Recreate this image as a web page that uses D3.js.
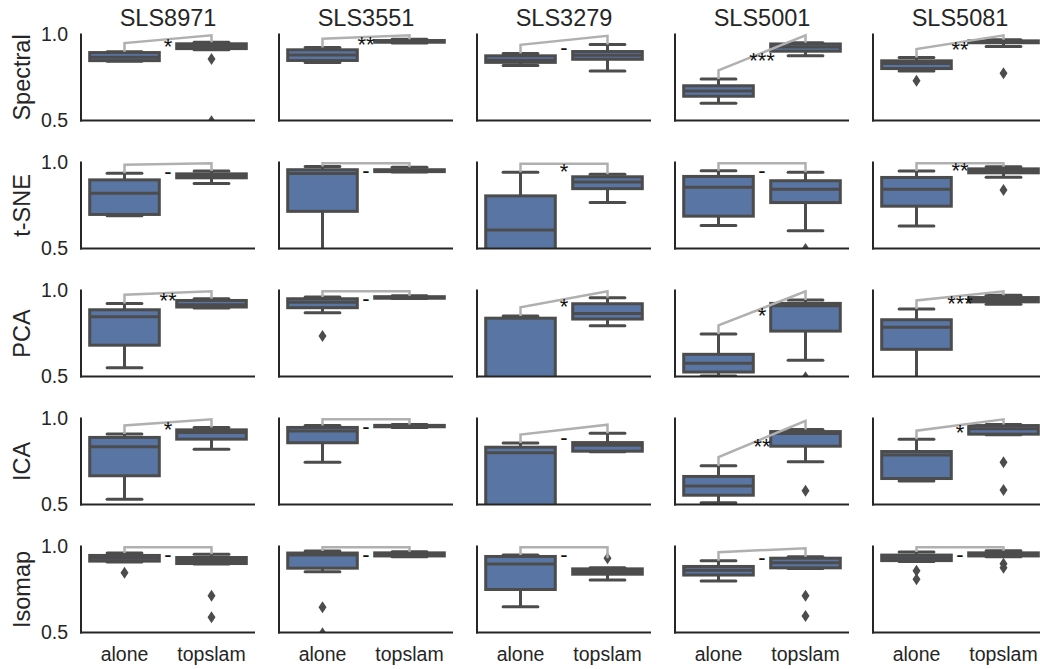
<!DOCTYPE html>
<html>
<head>
<meta charset="utf-8">
<script src="https://cdn.jsdelivr.net/npm/d3@7"></script>
<style>
  body { margin: 0; background: #fff; }
  text { font-family: "Liberation Sans", Arial, sans-serif; fill: #262626; }
</style>
</head>
<body>
<script>
const datasets = ["SLS8971", "SLS3551", "SLS3279", "SLS5001", "SLS5081"];
const methods = ["Spectral", "t-SNE", "PCA", "ICA", "Isomap"];
const groups = ["alone", "topslam"];
const yTicks = [0.5, 1.0];

// box stats per dataset: [whisker low, q1, median, q3, whisker high]
const spectralAlone = [
  [0.845, 0.848, 0.868, 0.895, 0.900],
  [0.837, 0.849, 0.881, 0.911, 0.925],
  [0.820, 0.838, 0.850, 0.876, 0.890],
  [0.600, 0.641, 0.672, 0.702, 0.742],
  [0.788, 0.802, 0.832, 0.847, 0.866]
];
const spectralTopslam = [
  [0.912, 0.918, 0.932, 0.946, 0.955],
  [0.950, 0.955, 0.960, 0.965, 0.972],
  [0.788, 0.856, 0.880, 0.901, 0.942],
  [0.876, 0.903, 0.928, 0.945, 0.952],
  [0.930, 0.952, 0.958, 0.963, 0.970]
];
const spectralAloneOut = [[], [], [], [], [0.731]];
const spectralTopslamOut = [[0.857, 0.496], [], [], [], [0.774]];
const spectralSig = ["*", "**", "-", "***", "**"];

const tsneAlone = [
  [0.690, 0.698, 0.821, 0.899, 0.937],
  [0.450, 0.716, 0.936, 0.958, 0.977],
  [0.300, 0.450, 0.608, 0.806, 0.943],
  [0.633, 0.688, 0.856, 0.919, 0.952],
  [0.631, 0.746, 0.844, 0.913, 0.951]
];
const tsneTopslam = [
  [0.878, 0.911, 0.922, 0.934, 0.950],
  [0.945, 0.947, 0.952, 0.958, 0.972],
  [0.767, 0.848, 0.886, 0.917, 0.932],
  [0.603, 0.767, 0.844, 0.894, 0.943],
  [0.914, 0.940, 0.952, 0.963, 0.975]
];
const tsneAloneOut = [[], [], [], [], []];
const tsneTopslamOut = [[], [], [], [0.497], [0.840]];
const tsneSig = ["-", "-", "*", "-", "**"];

const pcaAlone = [
  [0.551, 0.682, 0.848, 0.888, 0.925],
  [0.871, 0.900, 0.932, 0.952, 0.962],
  [0.200, 0.300, 0.450, 0.839, 0.852],
  [0.503, 0.526, 0.577, 0.629, 0.747],
  [0.480, 0.658, 0.786, 0.830, 0.892]
];
const pcaTopslam = [
  [0.898, 0.904, 0.917, 0.942, 0.952],
  [0.953, 0.955, 0.960, 0.964, 0.970],
  [0.795, 0.834, 0.867, 0.923, 0.958],
  [0.594, 0.764, 0.912, 0.925, 0.945],
  [0.920, 0.934, 0.947, 0.959, 0.972]
];
const pcaAloneOut = [[], [0.735], [], [], []];
const pcaTopslamOut = [[], [], [], [0.495], []];
const pcaSig = ["**", "-", "*", "*", "***"];

const icaAlone = [
  [0.530, 0.667, 0.836, 0.890, 0.910],
  [0.745, 0.859, 0.927, 0.948, 0.960],
  [0.300, 0.450, 0.801, 0.833, 0.857],
  [0.510, 0.554, 0.608, 0.663, 0.726],
  [0.637, 0.651, 0.788, 0.808, 0.879]
];
const icaTopslam = [
  [0.821, 0.880, 0.918, 0.934, 0.948],
  [0.948, 0.952, 0.956, 0.960, 0.965],
  [0.806, 0.810, 0.845, 0.860, 0.914],
  [0.749, 0.839, 0.913, 0.924, 0.936],
  [0.905, 0.909, 0.940, 0.959, 0.965]
];
const icaAloneOut = [[], [], [], [], []];
const icaTopslamOut = [[], [], [], [0.580], [0.745, 0.584]];
const icaSig = ["*", "-", "-", "**", "*"];

const isomapAlone = [
  [0.910, 0.915, 0.932, 0.948, 0.962],
  [0.853, 0.874, 0.950, 0.962, 0.974],
  [0.650, 0.750, 0.898, 0.942, 0.950],
  [0.800, 0.834, 0.862, 0.884, 0.917],
  [0.913, 0.918, 0.935, 0.950, 0.968]
];
const isomapTopslam = [
  [0.898, 0.901, 0.918, 0.936, 0.955],
  [0.940, 0.945, 0.955, 0.963, 0.970],
  [0.805, 0.839, 0.855, 0.870, 0.877],
  [0.872, 0.876, 0.905, 0.932, 0.940],
  [0.940, 0.945, 0.955, 0.963, 0.975]
];
const isomapAloneOut = [[0.848], [0.647, 0.495], [], [], [0.859, 0.810]];
const isomapTopslamOut = [[0.714, 0.588], [], [0.931], [0.714, 0.596], [0.900, 0.876]];
const isomapSig = ["-", "-", "-", "-", "-"];

// per method (row): [alone stats, topslam stats], outliers and significance labels
const stats = [
  [spectralAlone, spectralTopslam],
  [tsneAlone, tsneTopslam],
  [pcaAlone, pcaTopslam],
  [icaAlone, icaTopslam],
  [isomapAlone, isomapTopslam]
];
const outliers = [
  [spectralAloneOut, spectralTopslamOut],
  [tsneAloneOut, tsneTopslamOut],
  [pcaAloneOut, pcaTopslamOut],
  [icaAloneOut, icaTopslamOut],
  [isomapAloneOut, isomapTopslamOut]
];
const sigs = [spectralSig, tsneSig, pcaSig, icaSig, isomapSig];

const W = 1040, H = 669;
const boxColor = "#5875a4";
const gray = "#4c4c4c";
const annColor = "#b0b0b0";

const svg = d3.select("body").append("svg")
    .attr("width", W)
    .attr("height", H);

// panel grid
const colScale = d3.scaleBand().domain(datasets).range([81, 1047]).paddingInner(24 / 198);
const rowScale = d3.scaleBand().domain(methods).range([34.5, 632.5]).paddingInner(42 / 128);
const pw = colScale.bandwidth();
const ph = rowScale.bandwidth();

const x = d3.scaleBand().domain(groups).range([0, pw]);
const y = d3.scaleLinear().domain([0.5, 1.0]).range([ph, 0]);
const boxW = x.bandwidth() * 0.8;
const capW = boxW / 2;

const diamond = "M0,-6L4,0L0,6L-4,0Z";

methods.forEach((m, r) => {
  datasets.forEach((d, c) => {
    const g = svg.append("g")
        .attr("transform", "translate(" + colScale(d) + "," + rowScale(m) + ")");

    const clipId = "clip-" + r + "-" + c;
    g.append("clipPath").attr("id", clipId)
      .append("rect")
        .attr("x", -10).attr("y", -20)
        .attr("width", pw + 20).attr("height", ph + 20);

    const body = g.append("g").attr("clip-path", "url(#" + clipId + ")");

    let tops = [];
    groups.forEach((grp, k) => {
      const s = stats[r][k][c];
      const outs = outliers[r][k][c];
      const cx = x(grp) + x.bandwidth() / 2;

      // whiskers
      body.append("line")
          .attr("x1", cx).attr("x2", cx)
          .attr("y1", y(s[3])).attr("y2", y(s[4]))
          .attr("stroke", gray).attr("stroke-width", 3);
      body.append("line")
          .attr("x1", cx).attr("x2", cx)
          .attr("y1", y(s[1])).attr("y2", y(s[0]))
          .attr("stroke", gray).attr("stroke-width", 3);
      // caps
      [s[0], s[4]].forEach(v => {
        body.append("line")
            .attr("x1", cx - capW / 2).attr("x2", cx + capW / 2)
            .attr("y1", y(v)).attr("y2", y(v))
            .attr("stroke", gray).attr("stroke-width", 3)
            .attr("stroke-linecap", "round");
      });
      // box
      body.append("rect")
          .attr("x", cx - boxW / 2)
          .attr("y", y(s[3]))
          .attr("width", boxW)
          .attr("height", y(s[1]) - y(s[3]))
          .attr("fill", boxColor)
          .attr("stroke", gray)
          .attr("stroke-width", 3);
      // median
      body.append("line")
          .attr("x1", cx - boxW / 2).attr("x2", cx + boxW / 2)
          .attr("y1", y(s[2])).attr("y2", y(s[2]))
          .attr("stroke", gray).attr("stroke-width", 3);
      // outliers
      body.selectAll(".out" + k)
        .data(outs)
        .enter()
        .append("path")
          .attr("d", diamond)
          .attr("transform", v => "translate(" + cx + "," + y(v) + ")")
          .attr("fill", gray);

      tops.push({ cx: cx, max: d3.max([s[4]].concat(outs)) });
    });

    // significance bracket
    const yl = y(Math.min(tops[0].max + 0.05, 0.995));
    const yr = y(Math.min(Math.max(tops[0].max, tops[1].max) + 0.05, 0.995));
    g.append("path")
        .attr("d", "M" + tops[0].cx + "," + y(tops[0].max) +
                   "L" + tops[0].cx + "," + yl +
                   "L" + tops[1].cx + "," + yr +
                   "L" + tops[1].cx + "," + y(tops[1].max))
        .attr("fill", "none")
        .attr("stroke", annColor)
        .attr("stroke-width", 2.5);
    g.append("text")
        .attr("x", (tops[0].cx + tops[1].cx) / 2)
        .attr("y", (yl + yr) / 2 + 15)
        .attr("text-anchor", "middle")
        .attr("font-size", 22)
        .style("fill", "#111")
        .text(sigs[r][c]);

    // spines
    g.append("line")
        .attr("x1", 0).attr("x2", 0).attr("y1", -1).attr("y2", ph + 1)
        .attr("stroke", "#262626").attr("stroke-width", 2);
    g.append("line")
        .attr("x1", -1).attr("x2", pw).attr("y1", ph).attr("y2", ph)
        .attr("stroke", "#262626").attr("stroke-width", 2);

    if (c === 0) {
      const yAxis = d3.axisLeft(y).tickValues(yTicks).tickSize(0).tickPadding(13)
          .tickFormat(d3.format(".1f"));
      g.append("g").call(yAxis)
        .call(a => a.select(".domain").remove())
        .selectAll("text")
          .attr("font-size", 19.5)
          .style("font-family", "'Liberation Sans', Arial, sans-serif")
          .style("fill", "#262626");

      svg.append("text")
          .attr("transform", "translate(30," + (rowScale(m) + ph / 2) + ") rotate(-90)")
          .attr("text-anchor", "middle")
          .attr("font-size", 23.5)
          .text(m);
    }
    if (r === methods.length - 1) {
      const xAxis = d3.axisBottom(x).tickSize(0).tickPadding(15);
      g.append("g")
          .attr("transform", "translate(0," + ph + ")")
          .call(xAxis)
        .call(a => a.select(".domain").remove())
        .selectAll("text")
          .attr("font-size", 19.5)
          .style("font-family", "'Liberation Sans', Arial, sans-serif")
          .style("fill", "#262626");
    }
    if (r === 0) {
      svg.append("text")
          .attr("x", colScale(d) + pw / 2)
          .attr("y", 26)
          .attr("text-anchor", "middle")
          .attr("font-size", 23.5)
          .text(d);
    }
  });
});
</script>
</body>
</html>
